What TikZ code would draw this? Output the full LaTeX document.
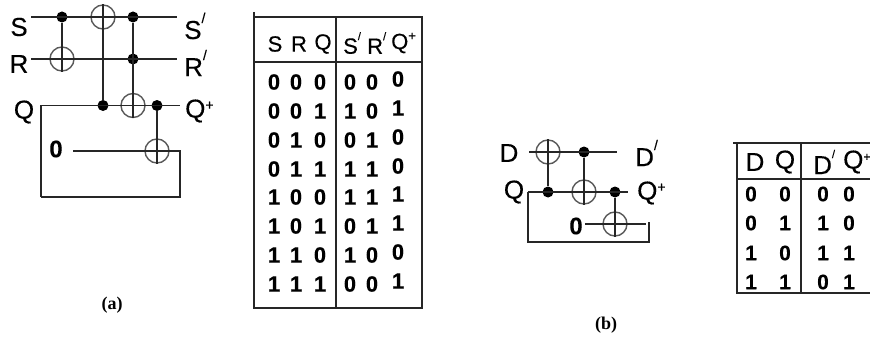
\documentclass[tikz,border=0pt]{standalone}
\usepackage{fontspec}
\setmainfont[FakeBold=0.25]{Liberation Sans}
\newfontfamily\capfont{Liberation Serif}
\newcommand{\prm}{\raisebox{0.62em}{\fontsize{14}{14}\selectfont /}}
\newcommand{\prms}{\raisebox{0.62em}{\fontsize{11}{11}\selectfont /}}
\tikzset{
  wire/.style={draw=black!85,line width=1.3pt},
  frame/.style={draw=black!85,line width=1.4pt},
  dotn/.style={circle,fill=black,inner sep=0pt,minimum size=11pt},
  xorn/.style={circle,draw=black!65,line width=1.4pt,inner sep=0pt,minimum size=24pt},
  lab/.style={inner sep=0pt,font=\fontsize{26}{26}\selectfont},
  hd/.style={inner sep=0pt,font=\fontsize{22}{22}\selectfont},
  hdb/.style={inner sep=0pt,font=\fontsize{26}{26}\selectfont},
  dig/.style={inner sep=0pt,font=\fontsize{22}{22}\selectfont\bfseries},
  digb/.style={inner sep=0pt,font=\fontsize{21}{21}\selectfont\bfseries},
  zero/.style={inner sep=0pt,font=\fontsize{24}{24}\selectfont\bfseries},
  capt/.style={inner sep=0pt,font=\fontsize{18}{18}\selectfont\capfont\bfseries},
}
\begin{document}
\begin{tikzpicture}[x=1pt,y=-1pt]
\useasboundingbox (0,0) rectangle (870,345);
% ---- circuit (a)
\node[lab] (lS) at (19,27) {S};
\node[lab] (lR) at (19,64) {R};
\node[lab] (lQ) at (24,112) {Q};
\node[zero] (lZ) at (56,149) {0};
\node[lab,anchor=west] (lSp) at (184,26) {S\prm};
\node[lab,anchor=west] (lRp) at (184,63) {R\prm};
\node[lab,anchor=west] (lQp) at (185,111) {Q\raisebox{0.3em}{\fontsize{14}{14}\selectfont +}};
\coordinate (sa) at (31,17); \coordinate (sb) at (177,17);
\coordinate (ra) at (31,59); \coordinate (rb) at (177,59);
\coordinate (qa) at (41,105.5); \coordinate (qb) at (180,105.5);
\coordinate (za) at (73,151); \coordinate (zb) at (180,151);
\coordinate (bl) at (41,197); \coordinate (br) at (180,197);
\node[dotn] (d1) at (62,17) {};
\node[xorn] (x1) at (62,59) {};
\node[xorn] (x2) at (103,17) {};
\node[dotn] (d2) at (133,17) {};
\node[dotn] (d3) at (133,59) {};
\node[dotn] (d4) at (103,105.5) {};
\node[xorn] (x3) at (133,105.5) {};
\node[dotn] (d5) at (157,105.5) {};
\node[xorn] (x4) at (157,151) {};
\draw[wire] (sa) -- (sb);
\draw[wire] (ra) -- (rb);
\draw[wire] (bl) -- (qa) -- (qb);
\draw[wire] (za) -- (zb) -- (br) -- (bl);
\draw[wire] (d1) -- (x1.south);
\draw[wire] (x2.north) -- (d4);
\draw[wire] (d2) -- (x3.south);
\draw[wire] (d5) -- (x4.south);
% ---- table (a)
\coordinate (ta) at (254,17); \coordinate (tb) at (422,17);
\coordinate (tc) at (254,308); \coordinate (td) at (422,308);
\coordinate (te) at (254,62); \coordinate (tf) at (422,62);
\coordinate (tg) at (336,17); \coordinate (th) at (336,308);
\coordinate (ti) at (254,12);
\draw[frame] (ti) -- (tc) -- (td) -- (tb) -- (ta);
\draw[frame] (te) -- (tf);
\draw[frame] (tg) -- (th);
\node[hd] (h1) at (275,44) {S};
\node[hd] (h2) at (299,44) {R};
\node[hd] (h3) at (323,44) {Q};
\node[hd,anchor=west] (h4) at (343,43) {S\prms};
\node[hd,anchor=west] (h5) at (367,43) {R\prms};
\node[hd,anchor=west] (h6) at (391,43) {Q\raisebox{0.4em}{\fontsize{13}{13}\selectfont +}};
\foreach \y/\a/\b/\c/\d/\e/\f [count=\i] in {
  82/0/0/0/0/0/0, 111/0/0/1/1/0/1, 140/0/1/0/0/1/0, 169/0/1/1/1/1/0,
  197/1/0/0/1/1/1, 226/1/0/1/0/1/1, 255/1/1/0/1/0/0, 284/1/1/1/0/0/1} {
  \node[dig] (ra\i) at (274,\y) {\a};
  \node[dig] (rb\i) at (296,\y) {\b};
  \node[dig] (rc\i) at (320,\y) {\c};
  \node[dig] (rd\i) at (350,\y) {\d};
  \node[dig] (re\i) at (372,\y) {\e};
  \node[dig] (rf\i) at (398,\y-3) {\f};
}
\node[capt] (capa) at (112,305) {(a)};
% ---- circuit (b)
\node[lab] (bD) at (509,153) {D};
\node[lab] (bQ) at (514,192) {Q};
\node[zero] (bZ) at (576,226) {0};
\node[lab,anchor=west] (bDp) at (635,153) {D\prm};
\node[lab,anchor=west] (bQp) at (637,193) {Q\raisebox{0.3em}{\fontsize{14}{14}\selectfont +}};
\coordinate (da) at (529,152); \coordinate (db) at (617,152);
\coordinate (qc) at (528,192); \coordinate (qd) at (628,192);
\coordinate (zc) at (585,224); \coordinate (zd) at (646,224);
\coordinate (be) at (528,242); \coordinate (bf) at (649,242); \coordinate (bg) at (649,222);
\node[xorn] (y1) at (548,152) {};
\node[dotn] (e1) at (584,152) {};
\node[dotn] (e2) at (548,192) {};
\node[xorn] (y2) at (584,192) {};
\node[dotn] (e3) at (615,192) {};
\node[xorn] (y3) at (615,224) {};
\draw[wire] (da) -- (db);
\draw[wire] (qc) -- (qd);
\draw[wire] (zc) -- (zd);
\draw[wire] (qc) -- (be) -- (bf) -- (bg);
\draw[wire] (y1.north) -- (e2);
\draw[wire] (e1) -- (y2.south);
\draw[wire] (e3) -- (y3.south);
% ---- table (b)
\coordinate (ua) at (733,143); \coordinate (ub) at (870,143);
\coordinate (uc) at (737,143); \coordinate (ud) at (737,293);
\coordinate (ue) at (870,293); \coordinate (uf) at (737,179); \coordinate (ug) at (870,179);
\coordinate (uh) at (801,143); \coordinate (ui) at (801,293);
\draw[frame] (ua) -- (ub);
\draw[frame] (uc) -- (ud) -- (ue);
\draw[frame] (uf) -- (ug);
\draw[frame] (uh) -- (ui);
\node[hdb] (k1) at (755,162) {D};
\node[hdb] (k2) at (785,162) {Q};
\node[hdb,anchor=west] (k3) at (813,162) {D\prms};
\node[hdb,anchor=west] (k4) at (843,162) {Q\raisebox{0.3em}{\fontsize{12}{12}\selectfont +}};
\foreach \y/\a/\b/\c/\d [count=\i] in {194/0/0/0/0, 223/0/1/1/0, 253/1/0/1/1, 282/1/1/0/1} {
  \node[digb] (ma\i) at (751,\y) {\a};
  \node[digb] (mb\i) at (785,\y) {\b};
  \node[digb] (mc\i) at (823,\y) {\c};
  \node[digb] (md\i) at (849,\y) {\d};
}
\node[capt] (capb) at (606,325) {(b)};
\end{tikzpicture}
\end{document}
